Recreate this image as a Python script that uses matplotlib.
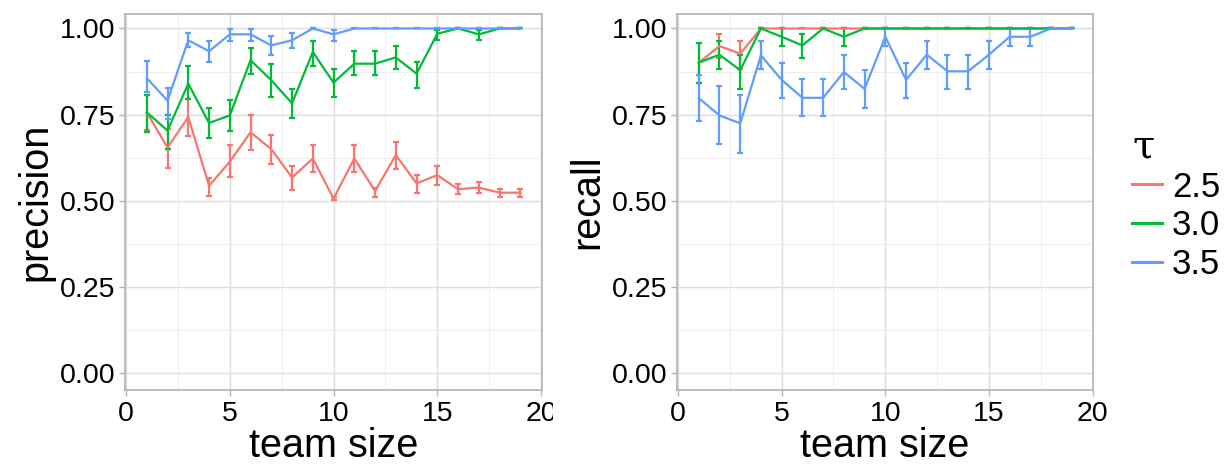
import matplotlib
matplotlib.use("Agg")
import matplotlib.pyplot as plt
from matplotlib.lines import Line2D
from matplotlib.ticker import MultipleLocator, FormatStrFormatter
from matplotlib.transforms import Bbox
import numpy as np

plt.rcParams['font.family'] = ['Liberation Sans', 'DejaVu Sans']

team_size = list(range(1, 20))
taus = ["2.5", "3.0", "3.5"]
colors = ["#F8766D", "#00BA38", "#619CFF"]
x_ticks = [0, 5, 10, 15, 20]

# precision: mean, low, high
prec_25 = [0.757, 0.655, 0.743, 0.544, 0.614, 0.699, 0.650, 0.568, 0.623, 0.507,
           0.623, 0.529, 0.633, 0.551, 0.575, 0.534, 0.539, 0.524, 0.524]
prec_25_lo = [0.705, 0.597, 0.687, 0.515, 0.570, 0.648, 0.607, 0.531, 0.584, 0.502,
              0.584, 0.512, 0.592, 0.524, 0.546, 0.519, 0.524, 0.512, 0.512]
prec_25_hi = [0.808, 0.709, 0.796, 0.568, 0.662, 0.750, 0.692, 0.602, 0.663, 0.512,
              0.663, 0.539, 0.672, 0.576, 0.602, 0.549, 0.555, 0.534, 0.536]

prec_30 = [0.757, 0.704, 0.840, 0.726, 0.748, 0.908, 0.850, 0.783, 0.932, 0.843,
           0.898, 0.898, 0.916, 0.869, 0.985, 1.0, 0.983, 1.0, 1.0]
prec_30_lo = [0.701, 0.650, 0.796, 0.682, 0.704, 0.869, 0.801, 0.741, 0.891, 0.801,
              0.864, 0.864, 0.882, 0.828, 0.966, 1.0, 0.966, 1.0, 1.0]
prec_30_hi = [0.808, 0.750, 0.891, 0.769, 0.794, 0.944, 0.898, 0.825, 0.963, 0.882,
              0.934, 0.934, 0.950, 0.903, 0.995, 1.0, 0.995, 1.0, 1.0]

prec_35 = [0.856, 0.791, 0.966, 0.934, 0.983, 0.983, 0.951, 0.966, 1.0, 0.983,
           1.0, 1.0, 1.0, 1.0, 1.0, 1.0, 1.0, 1.0, 1.0]
prec_35_lo = [0.816, 0.738, 0.945, 0.903, 0.965, 0.965, 0.924, 0.944, 1.0, 0.965,
              1.0, 1.0, 1.0, 1.0, 1.0, 1.0, 1.0, 1.0, 1.0]
prec_35_hi = [0.905, 0.828, 0.988, 0.963, 0.998, 0.998, 0.977, 0.988, 1.0, 0.995,
              1.0, 1.0, 1.0, 1.0, 1.0, 1.0, 1.0, 1.0, 1.0]

# recall: mean, low, high
rec_25 = [0.901, 0.949, 0.927] + [1.0] * 16
rec_25_lo = [0.842, 0.913, 0.883] + [1.0] * 16
rec_25_hi = [0.959, 0.985, 0.964] + [1.0] * 16

rec_30 = [0.901, 0.924, 0.879, 1.0, 0.976, 0.951, 1.0, 0.976, 1.0, 1.0,
          1.0, 1.0, 1.0, 1.0, 1.0, 1.0, 1.0, 1.0, 1.0]
rec_30_lo = [0.842, 0.883, 0.825, 1.0, 0.950, 0.915, 1.0, 0.950, 1.0, 1.0,
             1.0, 1.0, 1.0, 1.0, 1.0, 1.0, 1.0, 1.0, 1.0]
rec_30_hi = [0.959, 0.964, 0.924, 1.0, 1.0, 0.985, 1.0, 1.0, 1.0, 1.0,
             1.0, 1.0, 1.0, 1.0, 1.0, 1.0, 1.0, 1.0, 1.0]

rec_35 = [0.798, 0.748, 0.725, 0.922, 0.851, 0.799, 0.799, 0.874, 0.825, 0.976,
          0.851, 0.924, 0.876, 0.876, 0.924, 0.976, 0.976, 1.0, 1.0]
rec_35_lo = [0.733, 0.665, 0.639, 0.883, 0.798, 0.745, 0.745, 0.825, 0.770, 0.950,
             0.798, 0.883, 0.825, 0.825, 0.883, 0.950, 0.950, 1.0, 1.0]
rec_35_hi = [0.866, 0.833, 0.808, 0.964, 0.901, 0.854, 0.854, 0.924, 0.879, 1.0,
             0.901, 0.964, 0.924, 0.924, 0.964, 1.0, 1.0, 1.0, 1.0]

panels = [
    ("precision", [(prec_25, prec_25_lo, prec_25_hi),
                   (prec_30, prec_30_lo, prec_30_hi),
                   (prec_35, prec_35_lo, prec_35_hi)]),
    ("recall", [(rec_25, rec_25_lo, rec_25_hi),
                (rec_30, rec_30_lo, rec_30_hi),
                (rec_35, rec_35_lo, rec_35_hi)]),
]

W, H = 1226, 465
fig = plt.figure(figsize=(W / 100, H / 100), dpi=100)

boxes = [(125, 541.5), (677, 1093)]
top_px, bot_px = 14, 390

axes = []
for (ylabel, series), (l, r) in zip(panels, boxes):
    ax = fig.add_axes([l / W, 1 - bot_px / H, (r - l) / W, (bot_px - top_px) / H])
    axes.append(ax)
    ax.set_xlim(-0.05, 20.02)
    ax.set_ylim(-0.048, 1.042)
    ax.set_xticks(x_ticks)
    ax.xaxis.set_minor_locator(MultipleLocator(2.5))
    ax.yaxis.set_major_locator(MultipleLocator(0.25))
    ax.yaxis.set_minor_locator(MultipleLocator(0.125))
    ax.yaxis.set_major_formatter(FormatStrFormatter('%.2f'))
    ax.grid(which='major', color='#DEDEDE', linewidth=1.0)
    ax.grid(which='minor', color='#EBEBEB', linewidth=0.6)
    ax.set_axisbelow(True)
    for s in ax.spines.values():
        s.set_color('#B3B3B3')
        s.set_linewidth(1.2)
    ax.tick_params(which='major', length=4, width=1, color='#B3B3B3',
                   labelsize=20.5, labelcolor='black')
    ax.tick_params(axis='x', which='major', pad=4)
    ax.tick_params(axis='y', which='major', pad=3)
    ax.tick_params(which='minor', length=0)
    for (m, lo, hi), c in zip(series, colors):
        m = np.array(m); lo = np.array(lo); hi = np.array(hi)
        ax.errorbar(team_size, m, yerr=[m - lo, hi - m], color=c, linewidth=1.6,
                    elinewidth=1.6, capsize=2.3, capthick=1.6)
    ax.set_xlabel("team size", fontsize=28.5, labelpad=0)
    ax.set_ylabel(ylabel, fontsize=28.5, labelpad=4)

# clip the "20" label of the left panel like the reference
clip = Bbox.from_extents(0, 0, 553, H)
last = axes[0].xaxis.get_major_ticks()[-1].label1
last.set_clip_box(clip)
last.set_clip_on(True)

handles = [Line2D([], [], color=c, linewidth=2.2) for c in colors]
leg = fig.legend(handles, taus, loc='upper left', bbox_to_anchor=(1132 / W, 1 - 128 / H),
                 frameon=False, fontsize=25, title='τ',
                 title_fontproperties={'family': 'DejaVu Serif', 'size': 29},
                 handlelength=0.85, handletextpad=0.3, labelspacing=0.16,
                 borderpad=0, borderaxespad=0)
leg._legend_box.align = "left"

fig.savefig("out.png", dpi=100)
